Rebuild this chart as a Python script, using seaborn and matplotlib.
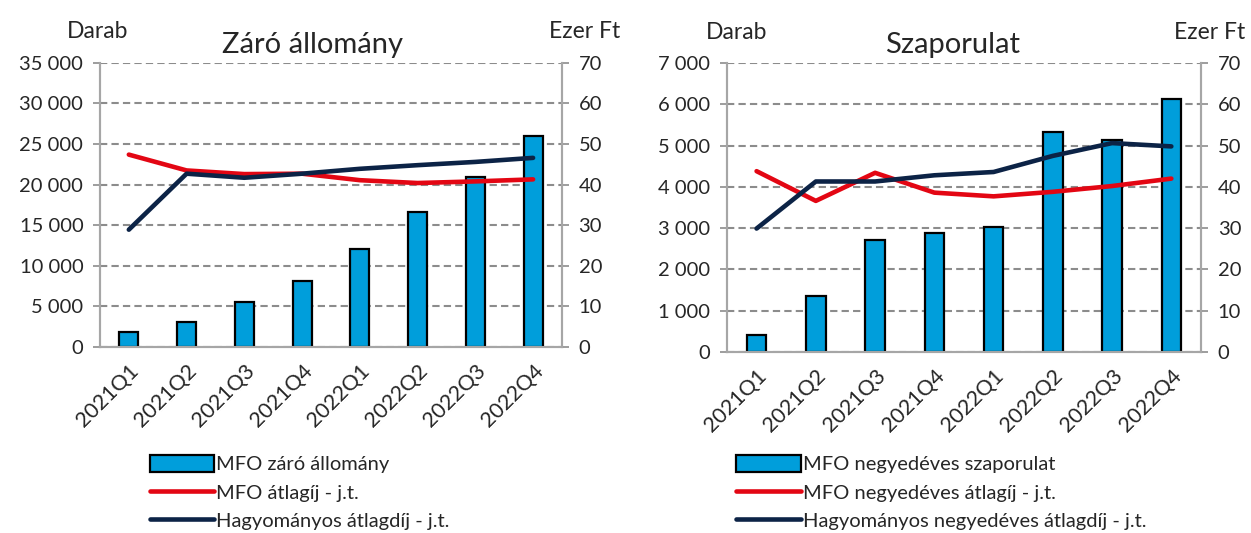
import matplotlib
matplotlib.use("Agg")
import matplotlib.pyplot as plt
from matplotlib.lines import Line2D
from matplotlib.patches import Patch
from matplotlib.ticker import FuncFormatter
import numpy as np
import pandas as pd
import seaborn as sns

quarters = ["2021Q1", "2021Q2", "2021Q3", "2021Q4",
            "2022Q1", "2022Q2", "2022Q3", "2022Q4"]

# left panel: Záró állomány
stock_count = [1850, 3080, 5550, 8130, 12040, 16640, 20950, 25960]
stock_mfo_fee = [47.4, 43.5, 42.6, 42.7, 41.1, 40.4, 40.8, 41.3]
stock_trad_fee = [28.9, 42.7, 41.7, 42.7, 43.9, 44.8, 45.6, 46.6]

# right panel: Szaporulat
growth_count = [400, 1365, 2720, 2890, 3020, 5320, 5130, 6120]
growth_mfo_fee = [43.8, 36.6, 43.4, 38.6, 37.7, 38.8, 40.2, 42.0]
growth_trad_fee = [29.9, 41.3, 41.3, 42.8, 43.6, 47.5, 50.6, 49.8]

BLUE = "#009EDB"
RED = "#E30613"
NAVY = "#0C2346"
GRID = "#8C8C8C"
SPINE = "#A6A6A6"

sns.set_theme(style="white")
plt.rcParams["font.family"] = ["Lato", "DejaVu Sans"]
FS = 14.5


def thousands(v, pos):
    return "{:,.0f}".format(v).replace(",", " ")


def panel(fig, rect, title, counts, mfo, trad, ymax, labels, pos):
    title_x, darab_x, ezer_x, head_y, leg_anchor = pos
    ax = fig.add_axes(rect)
    df = pd.DataFrame({"q": quarters, "n": counts})
    sns.barplot(data=df, x="q", y="n", color=BLUE, width=0.33,
                edgecolor="black", linewidth=1.6, saturation=1, ax=ax, zorder=3)
    ax.set_ylim(0, ymax)
    ax.set_yticks(np.arange(0, ymax + 1, ymax / 7))
    ax.yaxis.set_major_formatter(FuncFormatter(thousands))
    ax.set_xlim(-0.5, 7.5)
    ax.grid(axis="y", color=GRID, linestyle=(0, (3.5, 2)), linewidth=1.5, zorder=0)
    ax.set_axisbelow(True)
    ax.set_xlabel("")
    ax.set_ylabel("")
    for s in ["left", "right", "bottom"]:
        ax.spines[s].set_color(SPINE)
        ax.spines[s].set_linewidth(1.5)
    ax.spines["top"].set_visible(False)
    ax.tick_params(axis="y", length=5, width=1.2, color=GRID, labelsize=FS, pad=7, left=True)
    ax.tick_params(axis="x", length=0, labelsize=15.5, pad=10)
    plt.setp(ax.get_xticklabels(), rotation=45, ha="right", rotation_mode="anchor")

    ax2 = ax.twinx()
    x = np.arange(len(quarters))
    sns.lineplot(x=x, y=mfo, color=RED, linewidth=3.3, ax=ax2)
    sns.lineplot(x=x, y=trad, color=NAVY, linewidth=3.3, ax=ax2)
    ax2.set_ylim(0, 70)
    ax2.set_yticks(np.arange(0, 71, 10))
    ax2.set_xlim(-0.5, 7.5)
    ax2.spines["top"].set_visible(False)
    for s in ["left", "right", "bottom"]:
        ax2.spines[s].set_color(SPINE)
        ax2.spines[s].set_linewidth(1.5)
    ax2.tick_params(axis="y", length=5, width=1.2, color=GRID, labelsize=FS, pad=7, right=True)
    ax2.grid(False)

    ax.text(title_x, head_y - 0.045, title, transform=ax.transAxes, fontsize=21,
            ha="center", va="center")
    ax.text(darab_x, head_y, "Darab", transform=ax.transAxes, fontsize=16.5,
            ha="center", va="center")
    ax.text(ezer_x, head_y, "Ezer Ft", transform=ax.transAxes, fontsize=16.5,
            ha="center", va="center")

    handles = [Patch(facecolor=BLUE, edgecolor="black", linewidth=1.6),
               Line2D([], [], color=RED, linewidth=3.3),
               Line2D([], [], color=NAVY, linewidth=3.3)]
    ax.legend(handles, labels, loc="upper left", bbox_to_anchor=leg_anchor,
              frameon=False, fontsize=FS, handlelength=3.2, handleheight=0.9,
              handletextpad=0.1, labelspacing=0.5, borderaxespad=0,
              borderpad=0)
    return ax


fig = plt.figure(figsize=(12.51, 5.33), dpi=100)
panel(fig, [0.0799, 0.349, 0.3693, 0.533], "Záró állomány",
      stock_count, stock_mfo_fee, stock_trad_fee, 35000,
      ["MFO záró állomány", "MFO átlagíj - j.t.", "Hagyományos átlagdíj - j.t."],
      (0.461, -0.006, 1.05, 1.109, (0.108, -0.38)))
panel(fig, [0.5811, 0.3396, 0.3789, 0.5422], "Szaporulat",
      growth_count, growth_mfo_fee, growth_trad_fee, 7000,
      ["MFO negyedéves szaporulat", "MFO negyedéves átlagíj - j.t.",
       "Hagyományos negyedéves átlagdíj - j.t."],
      (0.475, 0.021, 1.019, 1.107, (0.02, -0.356)))

fig.savefig("out.png", dpi=100)
